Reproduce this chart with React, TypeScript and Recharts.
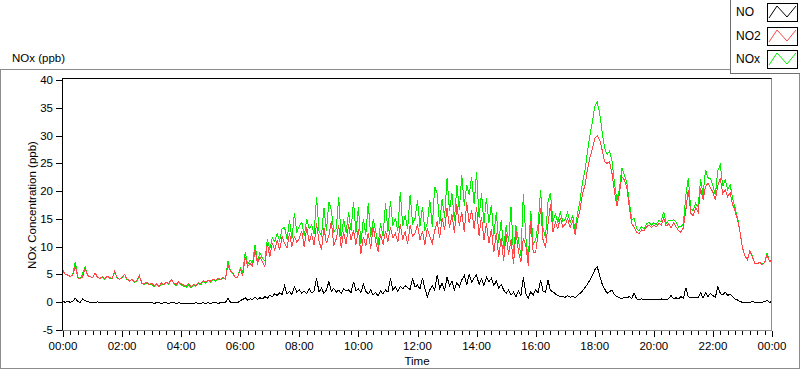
import { Line, LineChart, XAxis, YAxis } from "recharts";

// one sample every 5 minutes, 00:00 .. 24:00
const STEP_MIN = 5;

const timeLabels = [
  "00:00", "02:00", "04:00", "06:00", "08:00", "10:00", "12:00",
  "14:00", "16:00", "18:00", "20:00", "22:00", "00:00",
];
const yTicks = [-5, 0, 5, 10, 15, 20, 25, 30, 35, 40];

const no = [
  0.1, 0.0, 0.1, 0.0, 0.2, 0.7, 0.1, 0.0, 0.6, 0.3, 0.1, 0.0,
  0.0, -0.1, 0.1, -0.1, 0.0, -0.1, 0.0, -0.1, 0.0, -0.1, -0.1, 0.0,
  -0.1, 0.0, -0.1, -0.1, 0.0, -0.1, -0.1, 0.0, -0.1, -0.1, -0.1, -0.1,
  -0.1, -0.2, -0.1, -0.1, -0.2, -0.1, -0.1, -0.2, -0.1, -0.1, -0.2, -0.1,
  -0.2, -0.2, -0.2, -0.3, -0.2, -0.2, -0.1, -0.2, -0.2, -0.1, -0.2, -0.1,
  -0.2, -0.1, -0.1, -0.2, -0.1, -0.1, 0.0, 0.7, 0.0, -0.1, 0.0, -0.1,
  0.3, 0.5, 0.8, 0.4, 0.6, 0.5, 0.9, 0.5, 0.8, 0.6, 1.0, 0.7,
  1.3, 1.0, 1.5, 1.2, 1.7, 1.4, 2.9, 1.5, 1.9, 1.4, 2.8, 1.8,
  2.2, 1.6, 2.0, 1.5, 2.4, 1.7, 2.0, 4.3, 1.8, 2.5, 1.6, 2.2,
  3.7, 2.0, 2.5, 1.8, 2.2, 1.6, 2.4, 2.0, 2.2, 1.7, 3.7, 2.1,
  2.4, 1.8, 3.2, 2.0, 1.5, 2.2, 1.3, 1.8, 1.1, 2.0, 1.5, 2.2,
  1.8, 4.3, 2.2, 2.8, 2.0, 2.9, 2.4, 3.0, 2.6, 2.3, 4.3, 2.7,
  3.1, 2.4, 4.4, 2.5, 1.0, 2.2, 3.0, 2.2, 4.9, 2.5, 3.4, 2.2,
  4.5, 3.0, 3.8, 2.2, 3.5, 2.8, 4.0, 4.8, 3.1, 5.1, 3.6, 4.4,
  4.9, 3.2, 4.2, 3.0, 4.5, 3.7, 4.3, 3.0, 3.8, 2.5, 3.2, 2.2,
  1.6, 2.2, 1.3, 1.8, 1.0, 2.0, 1.2, 4.5, 1.5, 0.8, 1.9, 1.3,
  2.2, 1.7, 4.0, 2.0, 1.8, 4.0, 2.1, 1.9, 1.5, 1.2, 1.0, 1.0,
  0.9, 1.2, 0.9, 1.1, 0.8, 1.2, 1.6, 2.0, 2.6, 3.2, 4.0, 4.8,
  5.8, 6.4, 4.8, 3.3, 2.4, 1.6, 1.9, 2.2, 1.4, 1.0, 0.8, 0.6,
  0.9, 0.8, 1.0, 0.7, 1.6, 0.6, 0.5, 0.6, 0.4, 0.5, 0.5, 0.4,
  0.5, 0.4, 0.5, 0.6, 0.4, 0.5, 0.6, 1.2, 0.6, 0.8, 0.6, 1.0,
  0.7, 2.6, 1.0, 0.8, 0.9, 0.8, 0.9, 1.7, 0.8, 1.7, 1.0, 1.6,
  1.2, 0.9, 2.8, 1.6, 1.3, 1.8, 1.2, 1.5, 1.0, 0.6, 0.4, 0.1,
  0.0, 0.0, 0.0, 0.0, 0.1, 0.0, 0.0, 0.0, 0.0, 0.1, 0.3, 0.0,
  0.1,
];

const no2 = [
  5.6, 5.0, 4.8, 4.6, 4.9, 6.6, 4.4, 4.2, 4.6, 6.1, 4.8, 4.6,
  4.4, 5.3, 4.5, 4.3, 4.6, 4.2, 4.7, 4.4, 4.3, 5.6, 4.4, 4.1,
  4.5, 5.0, 4.2, 3.9, 4.1, 3.7, 3.9, 4.8, 3.5, 3.3, 3.6, 3.2,
  3.4, 3.0, 3.3, 2.8, 3.5, 3.2, 3.6, 3.4, 4.1, 3.5, 3.2, 3.7,
  3.3, 3.1, 2.9, 3.4, 2.8, 3.2, 3.0, 3.5, 3.3, 3.9, 3.6, 4.0,
  3.8, 4.2, 3.9, 4.3, 4.1, 4.5, 4.2, 6.7, 5.6, 5.3, 4.4, 4.6,
  5.9, 4.8, 8.2, 6.4, 7.0, 6.5, 9.4, 7.0, 8.1, 7.3, 6.4, 10.6,
  8.2, 10.6, 9.4, 11.2, 9.4, 11.8, 10.6, 9.8, 12.4, 10.0, 11.8, 10.8,
  11.5, 12.8, 9.9, 13.5, 10.8, 12.2, 10.3, 14.2, 11.0, 9.5, 13.4, 10.6,
  12.0, 14.6, 10.2, 11.4, 13.8, 9.8, 12.6, 10.5, 14.0, 11.2, 12.9, 10.4,
  13.2, 8.6, 11.8, 10.2, 12.5, 9.6, 13.6, 11.0, 9.1, 12.2, 10.4, 12.8,
  10.9, 13.5, 11.6, 12.4, 10.8, 14.1, 11.3, 12.7, 10.5, 13.8, 11.9, 12.4,
  14.0, 11.2, 12.8, 10.4, 13.3, 11.8, 10.6, 12.9, 14.6, 11.5, 15.2, 13.0,
  17.0, 13.4, 15.8, 12.4, 17.6, 13.8, 16.2, 12.6, 18.0, 14.2, 16.6, 13.2,
  17.2, 12.0, 15.4, 11.2, 14.3, 10.6, 13.2, 9.0, 12.4, 8.2, 11.6, 7.4,
  12.2, 8.6, 11.3, 6.8, 12.8, 9.2, 7.2, 11.6, 10.2, 6.6, 14.6, 9.0,
  9.0, 12.4, 17.0, 11.2, 9.8, 14.0, 17.6, 12.6, 14.4, 13.2, 15.2, 13.6,
  14.0, 15.0, 13.4, 14.6, 12.2, 14.8, 16.6, 19.5, 21.0, 23.8, 26.0, 27.5,
  29.5, 30.0, 29.2, 27.4, 25.3, 25.0, 25.3, 23.2, 20.0, 17.3, 19.5, 22.6,
  22.0, 20.8, 17.2, 14.2, 13.5, 12.6, 12.4, 13.0, 12.8, 13.6, 13.9, 13.5,
  13.8, 13.6, 14.2, 13.9, 15.2, 13.7, 14.1, 13.4, 14.3, 13.6, 12.9, 12.6,
  13.4, 16.6, 20.2, 16.0, 15.6, 17.0, 16.2, 20.5, 18.5, 20.8, 21.4, 20.6,
  19.8, 18.4, 21.0, 22.3, 19.6, 20.2, 19.0, 19.7, 17.6, 16.4, 14.8, 12.6,
  9.8, 8.4, 7.6, 9.3, 8.2, 7.0, 6.9, 7.2, 6.8, 7.1, 8.5, 7.3,
  7.6,
];

const nox = [
  5.7, 5.0, 4.9, 4.6, 5.1, 7.3, 4.5, 4.2, 5.2, 6.4, 4.9, 4.6,
  4.4, 5.2, 4.6, 4.2, 4.6, 4.1, 4.7, 4.3, 4.3, 5.5, 4.3, 4.1,
  4.4, 5.0, 4.1, 3.8, 4.1, 3.6, 3.8, 4.8, 3.4, 3.2, 3.5, 3.1,
  3.3, 2.8, 3.2, 2.7, 3.3, 3.1, 3.5, 3.2, 4.0, 3.4, 3.0, 3.6,
  3.1, 2.9, 2.7, 3.1, 2.6, 3.0, 2.9, 3.3, 3.1, 3.8, 3.4, 3.9,
  3.6, 4.1, 3.8, 4.1, 4.0, 4.4, 4.2, 7.4, 5.6, 5.2, 4.4, 4.5,
  6.2, 5.3, 9.0, 6.8, 7.6, 7.0, 10.3, 7.5, 8.9, 7.9, 7.4, 11.3,
  9.5, 11.6, 10.9, 12.4, 11.1, 13.2, 13.5, 11.3, 14.8, 11.4, 16.0, 12.6,
  13.7, 14.4, 11.9, 15.0, 13.2, 13.9, 12.3, 18.9, 12.8, 12.0, 17.0, 12.8,
  18.1, 16.6, 12.7, 13.2, 19.0, 11.4, 15.0, 12.5, 16.2, 12.9, 18.1, 12.5,
  17.2, 10.4, 15.0, 12.2, 17.8, 11.8, 14.9, 12.8, 10.2, 14.2, 11.9, 17.8,
  12.7, 18.3, 13.8, 15.2, 12.8, 19.9, 13.7, 15.7, 13.1, 19.3, 14.2, 15.1,
  18.4, 13.6, 17.2, 12.9, 14.3, 18.4, 13.6, 20.8, 19.5, 14.0, 18.6, 15.2,
  22.3, 16.4, 19.6, 14.6, 21.1, 16.6, 22.9, 17.4, 21.1, 19.3, 22.6, 17.6,
  23.5, 15.2, 19.6, 14.2, 18.8, 14.3, 17.5, 12.0, 16.2, 10.7, 14.8, 9.6,
  13.8, 10.8, 17.2, 8.6, 13.8, 11.2, 8.4, 19.5, 11.7, 7.4, 16.5, 10.3,
  11.2, 14.1, 20.2, 13.2, 11.6, 18.0, 19.7, 14.5, 15.9, 14.4, 16.2, 14.6,
  14.9, 16.2, 14.3, 15.7, 13.0, 16.0, 18.2, 21.5, 23.6, 27.0, 30.0, 32.3,
  35.3, 36.0, 34.0, 30.7, 27.7, 26.6, 27.2, 25.4, 21.4, 18.3, 20.3, 24.2,
  22.9, 21.6, 18.2, 14.9, 15.1, 13.2, 12.9, 13.6, 13.2, 14.1, 14.4, 13.9,
  14.3, 14.0, 14.7, 14.5, 16.3, 14.2, 14.7, 14.6, 14.9, 14.4, 13.5, 13.6,
  14.1, 19.2, 22.3, 16.8, 16.5, 17.8, 17.1, 22.2, 19.3, 23.8, 22.4, 22.2,
  21.0, 19.3, 23.8, 24.7, 20.9, 22.0, 20.2, 21.2, 18.6, 17.0, 15.2, 12.7,
  9.8, 8.4, 7.6, 9.3, 8.3, 7.0, 6.9, 7.2, 6.8, 7.2, 8.8, 7.3,
  7.7,
];

const data = no.map((v, i) => ({ t: i * STEP_MIN, no: v, no2: no2[i], nox: nox[i] }));

// minor ticks every 15 min, labelled every 2 h
const xTicks = Array.from({ length: 97 }, (_, i) => i * 15);

const FONT = "'Liberation Sans', Arial, sans-serif";
const TEXT = "#000";

const legendItems = [
  { name: "NO", color: "#000000" },
  { name: "NO2", color: "#ff4545" },
  { name: "NOx", color: "#00ee00" },
];

function XTick(props: any) {
  const { x, payload } = props;
  const major = payload.value % 120 === 0;
  const px = Math.round(x) + 0.5;
  return (
    <g>
      <line x1={px} x2={px} y1={331} y2={major ? 337 : 335} stroke="#000" />
      {major && (
        <text x={x} y={346} textAnchor="middle" dominantBaseline="central" fontSize={11.5} fill={TEXT} fontFamily={FONT}>
          {timeLabels[payload.value / 120]}
        </text>
      )}
    </g>
  );
}

function YTick(props: any) {
  const { y, payload } = props;
  const py = Math.round(y) + 0.5;
  return (
    <g>
      <line x1={56} x2={62} y1={py} y2={py} stroke="#000" />
      <text x={53} y={y} textAnchor="end" dominantBaseline="central" fontSize={11.5} fill={TEXT} fontFamily={FONT}>
        {payload.value}
      </text>
    </g>
  );
}

function Swatch({ color }: { color: string }) {
  return (
    <svg width={31} height={19} style={{ display: "block" }}>
      <rect x={0.5} y={0.5} width={30} height={18} fill="#fff" stroke="#000" />
      <polyline points="2,15 10,3 20,14 29,3" fill="none" stroke={color} strokeWidth={1} />
    </svg>
  );
}

export default function App() {
  return (
    <div style={{ position: "relative", width: 800, height: 369, background: "#fff", fontFamily: FONT, overflow: "hidden" }}>
      <style>{`body{margin:0}`}</style>
      <div
        style={{
          position: "absolute", left: 0, top: 69, width: 800, height: 300,
          border: "1px solid #8c8c8c", boxSizing: "border-box",
        }}
      />
      <div style={{ position: "absolute", left: 12, top: 51, fontSize: 11.5, color: TEXT, lineHeight: "14px" }}>
        NOx (ppb)
      </div>
      <div style={{ position: "absolute", left: 0, top: 0 }}>
        <LineChart width={800} height={369} data={data} margin={{ top: 78, right: 28, bottom: 0, left: 0 }}>
          <XAxis
            dataKey="t"
            type="number"
            domain={[0, 1440]}
            ticks={xTicks}
            interval={0}
            height={39}
            axisLine={false}
            tickLine={false}
            tick={(p: any) => <XTick {...p} />}
          />
          <YAxis
            type="number"
            domain={[-5, 40.36]}
            ticks={yTicks}
            interval={0}
            width={63}
            allowDataOverflow
            axisLine={false}
            tickLine={false}
            tick={(p: any) => <YTick {...p} />}
          />
          <Line dataKey="nox" stroke="#00ee00" strokeWidth={1} dot={false} isAnimationActive={false} shapeRendering="crispEdges" />
          <Line dataKey="no2" stroke="#ff4545" strokeWidth={1} dot={false} isAnimationActive={false} shapeRendering="crispEdges" />
          <Line dataKey="no" stroke="#000000" strokeWidth={1} dot={false} isAnimationActive={false} shapeRendering="crispEdges" />
        </LineChart>
      </div>
      <div
        style={{
          position: "absolute", left: 62, top: 78, width: 710, height: 253, boxSizing: "border-box",
          borderTop: "1px solid #000", borderLeft: "1px solid #000",
          borderRight: "1px solid #8c8c8c", borderBottom: "1px solid #8c8c8c",
          pointerEvents: "none",
        }}
      />
      <svg width={800} height={369} style={{ position: "absolute", left: 0, top: 0, pointerEvents: "none" }}>
        <text
          x={0}
          y={0}
          transform="translate(32 205) rotate(-90)"
          textAnchor="middle"
          dominantBaseline="central"
          fontSize={11.5}
          fill={TEXT}
          fontFamily={FONT}
        >
          NOx Concentration (ppb)
        </text>
        <text x={417} y={361} textAnchor="middle" dominantBaseline="central" fontSize={11.5} fill={TEXT} fontFamily={FONT}>
          Time
        </text>
      </svg>
      <div
        style={{
          position: "absolute", left: 730, top: 0, width: 70, height: 74, background: "#fff",
          borderLeft: "1px solid #6e6e6e", borderBottom: "1px solid #6e6e6e", boxSizing: "border-box",
        }}
      >
        {legendItems.map((item, i) => (
          <div key={item.name} style={{ position: "absolute", left: 0, top: 3 + i * 23.5, width: 70, height: 19 }}>
            <span style={{ position: "absolute", left: 5, top: 2, fontSize: 12, color: TEXT, lineHeight: "15px" }}>
              {item.name}
            </span>
            <div style={{ position: "absolute", left: 36, top: 0 }}>
              <Swatch color={item.color} />
            </div>
          </div>
        ))}
      </div>
    </div>
  );
}
